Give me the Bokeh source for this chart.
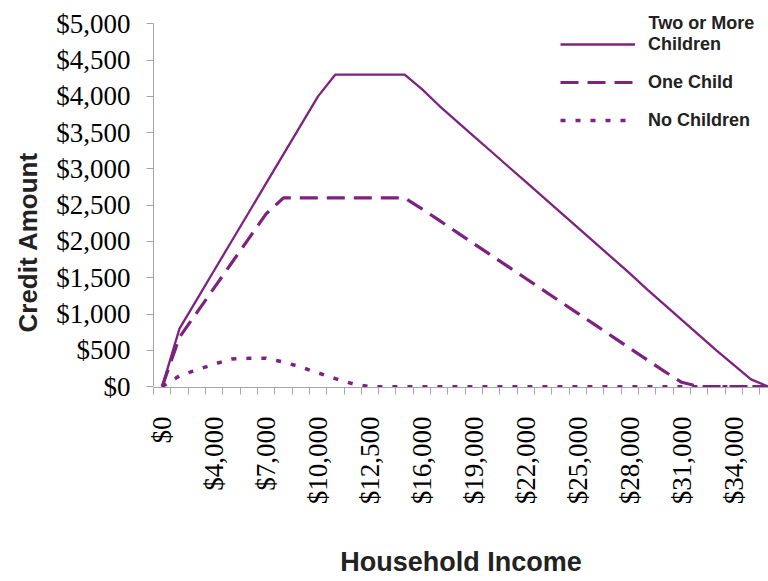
import math
from bokeh.plotting import figure
from bokeh.models import (Range1d, FixedTicker, NumeralTickFormatter, Legend,
                          LegendItem, Label, Title)
from bokeh.embed import file_html
from bokeh.resources import INLINE

# ---- data ----
income = [0, 2000, 3000, 4000, 5000, 6000, 7000, 8000, 9000, 10000, 11000,
          12000, 12500, 14000, 15000, 16000, 17000, 18000, 19000, 20000,
          21000, 22000, 23000, 24000, 25000, 26000, 27000, 28000, 29000,
          30000, 31000, 32000, 33000, 34000, 35000, 36000]
two_or_more = [0, 800, 1200, 1600, 2000, 2400, 2800, 3200, 3600, 4000, 4300,
               4300, 4300, 4300, 4300, 4100, 3870, 3660, 3450, 3240, 3030,
               2820, 2610, 2400, 2190, 1980, 1770, 1560, 1340, 1130, 920,
               710, 500, 300, 100, 0]
one_child = [0, 680, 1020, 1360, 1700, 2040, 2380, 2600, 2600, 2600, 2600,
             2600, 2600, 2600, 2600, 2450, 2290, 2130, 1970, 1810, 1650,
             1490, 1330, 1170, 1010, 850, 690, 530, 370, 210, 60, 0, 0, 0,
             0, 0]
no_children = [0, 150, 230, 310, 380, 390, 390, 340, 270, 190, 110, 40, 0,
               0, 0, 0, 0, 0, 0, 0, 0, 0, 0, 0, 0, 0, 0, 0, 0, 0, 0, 0, 0,
               0, 0, 0]
y_ticks = [0, 500, 1000, 1500, 2000, 2500, 3000, 3500, 4000, 4500, 5000]
label_every = 3
series_names = ["Two or More Children", "One Child", "No Children"]
x_title = "Household Income"
y_title = "Credit Amount"

PURPLE = "#7E2180"
GREY = "#A6A6A6"
TXT = "#222222"

idx = list(range(len(income)))
tick_idx = idx[::label_every]
tick_labels = {i: "${:,}".format(income[i]) for i in tick_idx}

p = figure(width=768, height=581, output_backend="svg", toolbar_location=None,
           x_range=Range1d(-0.5, 35.01), y_range=Range1d(-12, 5252),
           min_border_left=153, min_border_right=0, min_border_top=5,
           min_border_bottom=194)
p.outline_line_color = None
p.grid.visible = False
p.background_fill_color = "white"
p.border_fill_color = "white"

r1 = p.line(idx, two_or_more, line_color=PURPLE, line_width=2.3)
r2 = p.line(idx, one_child, line_color=PURPLE, line_width=3.2,
            line_dash="18 9")
r3 = p.line(idx, no_children, line_color=PURPLE, line_width=3.5,
            line_dash="5 10")

# x axis
xa = p.xaxis[0]
xa.ticker = FixedTicker(ticks=tick_idx,
                        minor_ticks=[i - 0.5 for i in range(len(income) + 1)])
xa.major_label_overrides = tick_labels
xa.major_tick_in = 0
xa.major_tick_out = 0
xa.minor_tick_in = 0
xa.minor_tick_out = 7
xa.minor_tick_line_color = GREY
xa.axis_line_color = GREY
xa.major_label_orientation = math.pi / 2
xa.major_label_standoff = 22
xa.major_label_text_font = "Liberation Serif"
xa.major_label_text_font_size = "27px"
xa.major_label_text_color = "black"
xa.axis_label = x_title
xa.axis_label_standoff = 40
xa.axis_label_text_font = "Liberation Sans"
xa.axis_label_text_font_style = "bold"
xa.axis_label_text_font_size = "27px"
xa.axis_label_text_color = TXT

# y axis
ya = p.yaxis[0]
ya.bounds = (0, 5000)
ya.ticker = FixedTicker(ticks=y_ticks, minor_ticks=[])
ya.formatter = NumeralTickFormatter(format="$0,0")
ya.major_tick_in = 0
ya.major_tick_out = 7
ya.major_tick_line_color = GREY
ya.axis_line_color = GREY
ya.major_label_standoff = 16
ya.major_label_text_font = "Liberation Serif"
ya.major_label_text_font_size = "27px"
ya.major_label_text_color = "black"

# y axis title
p.add_layout(Title(text=y_title, align="left", offset=55, standoff=18,
                   vertical_align="top",
                   text_font="Liberation Sans", text_font_style="bold",
                   text_font_size="26px", text_color=TXT), "left")

# legend
first_words = series_names[0].rsplit(" ", 1)
legend = Legend(items=[LegendItem(label=first_words[1], renderers=[r1]),
                       LegendItem(label=series_names[1], renderers=[r2]),
                       LegendItem(label=series_names[2], renderers=[r3])],
                location=(407, 256), orientation="vertical",
                border_line_color=None, background_fill_alpha=0,
                padding=0, margin=0, spacing=16, glyph_width=75,
                glyph_height=22, label_height=22, label_standoff=13,
                label_text_font="Liberation Sans",
                label_text_font_style="bold", label_text_font_size="18px",
                label_text_color=TXT)
p.add_layout(legend)
p.add_layout(Label(x=495, y=365, x_units="screen", y_units="screen",
                   text=first_words[0], text_align="left",
                   text_baseline="middle", text_font="Liberation Sans",
                   text_font_style="bold", text_font_size="18px",
                   text_color=TXT))

open("out.html", "w").write(file_html(p, INLINE))
